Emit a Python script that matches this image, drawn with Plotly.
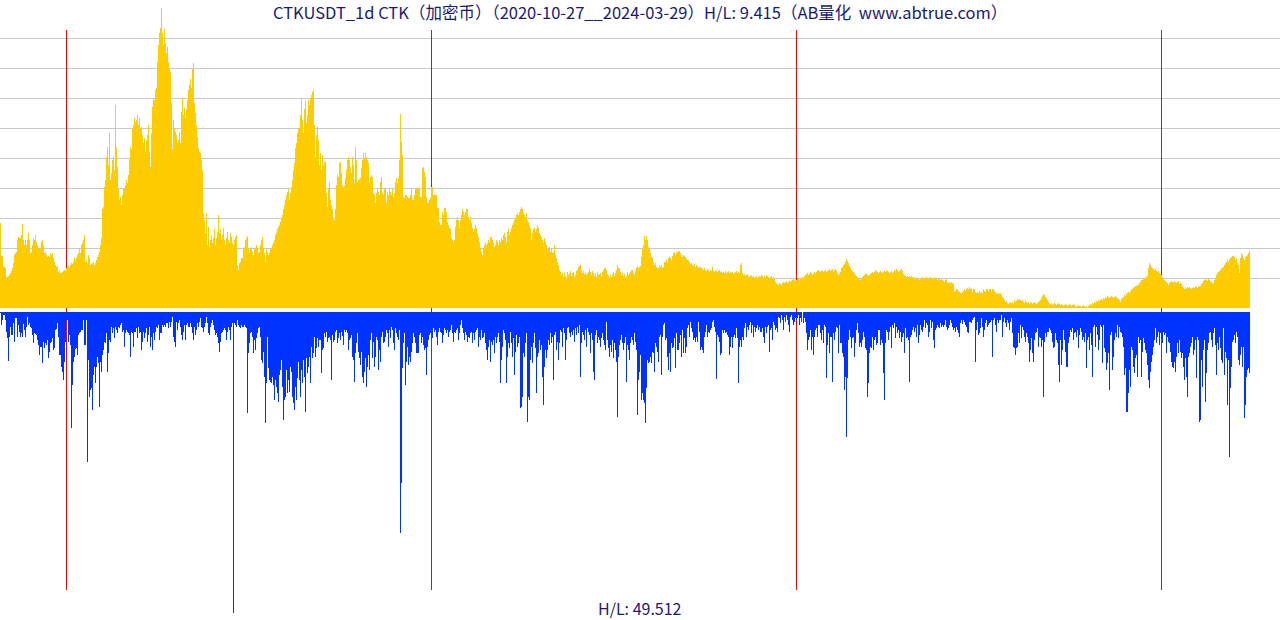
import pandas as pd
import plotly.graph_objects as go

start_date = "2020-10-27"
year_marks = ["2021-01-01", "2022-01-01", "2023-01-01", "2024-01-01"]
title_text = "CTKUSDT_1d CTK（加密币）（2020-10-27__2024-03-29）H/L: 9.415（AB量化  www.abtrue.com）"
volume_text = "H/L: 49.512"

# daily price (US cents)
price_cents = [
    163,118,118,105,104,102,90,90,91,93, 95,98,102,109,120,122,124,140,144,143,
    143,147,162,140,133,140,133,140,149,140, 122,124,133,143,140,147,137,133,129,127,
    129,137,140,133,122,124,120,117,118,117, 122,120,122,116,110,106,104,105,97,99,
    95,95,97,98,99,98,102,104,105,102, 106,109,108,110,116,113,116,120,122,127,
    122,133,136,140,147,110,113,109,120,116, 106,108,109,110,106,109,113,117,120,124,
    133,143,181,185,212,221,252,266,241,284, 221,230,248,252,234,322,266,239,208,194,
    198,187,201,210,208,214,221,217,228,251, 266,262,289,295,305,299,302,309,295,305,
    291,293,282,271,278,259,275,282,295,259, 239,284,320,332,329,342,345,380,403,419,
    426,453,419,403,424,406,392,401,380,370, 367,325,262,302,291,286,282,271,275,286,
    271,313,332,309,318,305,316,329,342,349, 357,345,370,379,325,311,295,279,264,259,
    257,248,234,176,167,149,176,133,158,131, 140,147,136,143,154,133,143,151,174,149,
    154,140,147,156,140,133,143,151,140,136, 149,144,136,133,140,144,147,106,99,109,
    110,116,116,127,131,140,143,145,129,122, 127,131,124,120,127,129,133,127,122,124,
    133,140,144,129,122,110,127,124,120,122, 127,129,133,136,140,147,149,154,158,160,
    164,170,174,181,187,194,201,205,208,194, 203,212,221,234,244,264,271,284,289,291,
    309,332,302,284,316,329,298,309,329,322, 332,336,340,342,295,252,282,293,275,241,
    257,234,255,241,245,245,203,185,210,218, 194,187,181,170,167,181,214,228,225,244,
    245,230,214,212,213,224,234,248,252,248, 239,230,252,241,217,266,248,218,221,222,
    224,237,248,257,251,257,252,248,244,218, 225,228,225,203,201,190,203,210,205,201,
    218,225,203,201,208,210,190,205,201,208, 205,201,208,198,203,218,224,217,224,248,
    310,272,255,198,197,201,201,198,197,197, 201,210,194,194,201,210,210,208,208,208,
    198,198,237,239,232,225,198,190,190,194, 197,212,212,201,201,201,201,183,183,164,
    160,160,178,174,183,183,178,164,160,156, 154,143,140,137,140,158,167,171,167,156,
    167,174,181,178,174,178,182,181,171,167, 171,163,156,151,154,160,156,149,144,137,
    129,124,120,127,133,136,133,136,140,137, 144,144,140,136,131,133,140,137,133,140,
    137,143,140,147,149,144,137,151,154,147, 151,156,160,163,167,170,174,176,174,178,
    181,185,181,176,174,171,176,167,164,160, 156,140,149,154,156,151,154,160,156,149,
    147,144,140,136,143,137,133,129,127,131, 124,127,122,124,133,120,116,110,106,99,
    97,93,95,90,97,91,89,97,93,95, 98,91,95,97,90,93,98,99,104,105,
    106,99,95,98,94,97,93,95,97,101, 97,93,98,95,91,95,90,97,93,94,
    95,91,97,99,102,102,99,94,91,89, 93,90,94,97,91,95,99,106,102,102,
    97,93,95,91,94,89,91,97,93,95, 97,99,99,95,93,98,102,105,102,104,
    105,117,127,133,145,140,145,140,131,127, 122,117,116,110,106,109,104,102,102,106,
    104,106,102,104,110,110,113,109,116,117, 116,113,118,122,124,120,122,124,125,125,
    122,120,117,120,118,117,114,113,113,110, 108,109,106,105,108,104,106,105,102,104,
    104,102,101,99,102,99,98,101,99,97, 99,98,104,98,97,99,98,97,98,99,
    97,98,95,97,95,98,95,97,98,95, 97,95,97,94,95,97,98,95,97,95,
    106,109,95,93,94,91,93,94,91,90, 91,93,90,91,89,90,91,89,90,91,
    90,93,91,89,91,90,93,91,90,89, 90,91,89,90,87,83,82,81,79,82,
    81,79,82,83,82,83,85,82,83,85, 83,85,86,87,86,85,86,87,89,86,
    87,89,90,89,91,93,94,95,93,94, 97,95,93,94,97,95,97,98,99,98,
    97,99,98,97,98,99,97,98,99,101, 98,99,101,97,99,101,98,95,93,94,
    97,102,104,106,108,110,114,112,109,105, 102,99,98,97,95,93,91,90,89,87,
    86,89,90,91,93,95,94,93,91,93, 94,95,97,95,97,99,98,97,95,97,
    98,97,95,97,98,97,99,98,97,95, 97,98,95,97,99,98,101,99,97,98,
    99,101,98,94,93,91,90,91,90,91, 90,91,90,89,90,89,87,89,87,86,
    87,89,90,89,87,89,90,89,87,89, 90,89,87,89,90,89,87,86,87,89,
    86,87,86,85,83,86,87,83,82,83, 82,83,82,81,70,71,73,74,71,70,
    68,68,70,71,73,71,74,75,74,77, 73,75,70,74,73,70,68,70,68,71,
    68,70,68,73,71,70,73,74,71,74, 73,70,74,73,71,68,68,67,68,67,
    68,66,63,62,59,56,58,55,54,56, 55,55,56,54,59,56,58,60,59,60,
    59,58,59,56,55,58,56,55,56,54, 55,56,54,55,56,55,54,55,56,58,
    59,62,64,67,66,63,62,59,56,55, 54,55,52,54,55,54,52,54,55,54,
    52,54,52,51,52,54,52,51,52,54, 52,51,52,54,52,51,50,51,52,51,
    51,50,51,52,51,50,51,48,51,52, 54,52,55,54,56,55,58,56,59,58,
    59,60,59,62,60,63,62,64,63,62, 63,64,63,62,63,64,63,62,60,59,
    56,60,62,63,66,64,67,68,70,68, 71,73,74,75,77,78,78,79,79,82,
    83,86,86,87,89,89,90,91,102,109, 106,104,102,101,99,101,98,97,98,95,
    94,93,90,87,86,85,83,82,79,82, 83,85,83,82,85,83,82,83,85,81,
    82,81,78,75,74,73,75,77,75,77, 75,74,75,77,75,78,77,75,77,78,
    78,81,82,85,86,87,86,85,87,86, 85,83,82,81,86,89,93,95,97,98,
    99,102,102,104,106,109,110,113,110,114, 116,117,118,118,117,113,116,109,106,95,
    116,122,120,116,113,117,118,120,122,125,
]

# daily volume (arbitrary units)
volume = [
    7,19,14,9,9,14,26,32,55,31, 21,29,29,17,36,12,12,31,19,26,
    31,27,31,18,24,31,21,11,19,17, 21,22,29,37,27,28,29,34,39,49,
    41,41,57,36,42,37,39,34,52,46, 37,36,32,44,42,24,23,17,31,49,
    49,61,66,74,56,36,14,14,36,29, 39,122,79,56,51,43,42,49,29,27,
    26,24,24,14,39,39,14,156,54,91, 84,82,104,69,61,77,61,51,57,101,
    56,66,49,44,36,37,27,66,47,34, 36,21,27,22,32,21,24,27,21,22,
    19,17,26,24,41,27,24,26,27,29, 51,26,27,41,26,26,22,32,21,27,
    26,44,36,26,32,27,22,36,29,21, 41,31,44,27,34,26,21,22,19,34,
    27,27,19,21,19,21,17,17,22,16, 21,16,11,31,36,41,16,24,17,14,
    21,29,34,26,19,34,19,17,21,21, 17,21,27,34,21,29,24,17,21,16,
    12,21,22,26,21,17,11,17,27,29, 21,17,14,19,24,29,27,31,37,46,
    36,27,26,24,22,24,34,26,21,24, 34,21,17,307,17,19,21,14,19,21,
    22,19,21,21,19,21,22,107,47,37, 27,26,31,47,34,44,32,27,22,21,
    31,54,57,46,71,117,77,31,62,74, 76,77,71,79,94,74,81,87,96,69,
    64,54,81,114,94,91,64,87,74,86, 61,66,91,97,104,81,94,72,56,74,
    91,64,77,54,71,106,52,67,61,51, 77,41,52,47,31,51,42,32,41,34,
    34,67,44,42,27,31,26,36,32,31, 34,74,29,36,34,26,24,37,32,27,
    34,26,30,39,24,26,24,27,44,34, 32,29,51,54,76,47,37,27,46,52,
    59,46,71,77,66,52,81,61,49,64, 34,27,52,36,61,51,31,34,64,44,
    56,31,26,37,36,31,24,27,41,24, 32,21,24,37,44,22,27,31,34,24,
    227,177,62,37,27,79,56,41,59,51, 56,46,37,27,31,37,47,47,47,29,
    27,37,31,39,44,42,69,41,34,29, 27,24,32,22,26,24,31,39,26,22,
    26,27,37,29,22,24,27,24,31,26, 24,19,27,36,26,27,24,22,34,27,
    19,14,22,27,34,26,29,36,31,32, 27,26,37,27,34,26,24,22,41,31,
    34,24,32,31,27,37,44,54,41,34, 56,36,39,34,47,31,37,31,27,36,
    77,54,41,24,27,34,77,51,37,42, 26,37,51,32,69,46,29,41,37,31,
    102,101,91,47,51,37,27,116,91,94, 54,41,57,37,27,42,87,51,47,34,
    44,39,71,99,61,44,52,44,34,39, 27,37,31,74,29,26,44,36,54,37,
    24,26,41,22,27,54,34,22,21,27, 31,26,29,24,36,22,29,21,27,19,
    71,37,26,29,34,24,41,22,26,29, 47,27,34,66,74,29,24,37,31,34,
    41,32,27,34,39,44,16,34,42,51, 39,46,34,52,37,44,56,111,51,39,
    34,29,37,44,37,31,76,39,44,54, 37,31,34,39,27,36,44,109,74,66,
    49,94,87,94,97,117,82,54,57,56, 51,57,46,47,66,37,41,46,56,31,
    29,69,31,19,17,34,32,51,64,47, 66,37,42,41,32,62,27,44,44,37,
    29,51,24,47,32,47,41,22,19,31, 16,22,26,34,32,36,31,36,16,26,
    44,41,44,47,31,26,19,31,26,27, 24,22,16,14,21,26,73,29,31,36,
    49,47,24,27,24,27,26,29,31,49, 41,31,42,31,29,32,22,32,77,41,
    34,41,31,34,22,17,31,21,24,19, 16,27,19,31,21,26,22,19,24,21,
    26,26,22,31,37,21,27,21,19,46, 24,22,34,16,19,24,22,26,11,12,
    17,9,14,24,11,16,9,14,19,26, 11,9,14,19,16,12,14,12,9,19,
    12,16,6,17,12,16,27,44,34,31, 24,44,31,49,31,24,22,31,19,19,
    27,34,24,37,19,21,72,39,27,47, 31,31,76,27,34,26,21,22,47,19,
    37,37,47,51,84,71,131,72,34,24, 31,42,32,31,51,37,24,17,27,41,
    37,41,34,26,31,42,44,91,77,47, 41,42,31,44,34,31,39,37,24,24,
    39,34,37,67,94,37,24,26,34,26, 21,42,19,22,17,32,21,27,24,32,
    26,36,31,27,47,22,32,31,34,76, 31,29,24,21,26,22,31,19,37,29,
    19,24,26,21,14,22,17,19,31,26, 14,22,16,34,42,24,22,19,21,22,
    17,21,19,21,19,14,21,24,22,19, 14,17,21,24,22,26,21,24,27,31,
    17,14,18,14,16,19,21,26,27,16, 16,17,14,12,11,56,24,16,29,27,
    22,12,21,31,24,17,14,21,19,17, 16,14,51,14,12,19,26,14,17,14,
    14,9,31,16,12,17,21,14,17,24, 16,12,27,41,42,49,42,41,27,37,
    19,32,21,24,31,36,27,31,37,56, 44,32,47,56,34,27,26,22,41,31,
    32,41,34,91,36,27,31,26,26,22, 24,27,36,42,41,27,34,37,59,76,
    34,59,44,24,34,46,61,61,37,31, 24,26,22,34,27,26,31,24,42,29,
    22,26,34,31,36,27,62,34,31,44, 27,39,71,21,19,41,21,29,44,34,
    19,21,57,19,42,46,64,57,47,84, 29,26,64,51,34,27,31,19,32,21,
    26,27,31,41,69,62,106,106,87,64, 81,41,44,61,67,52,49,71,31,37,
    34,71,46,32,37,44,47,59,74,82, 66,56,49,41,34,22,37,31,26,39,
    27,32,37,26,29,27,47,31,36,37, 46,56,61,62,56,66,51,37,47,34,
    46,52,47,61,74,52,71,91,51,47, 41,37,31,49,44,34,72,31,34,116,
    114,54,81,44,34,96,67,44,37,27, 26,34,41,27,22,39,69,37,44,31,
    42,54,57,22,69,46,52,99,54,151, 82,61,36,34,29,37,26,31,54,59,
    49,41,61,41,112,99,71,64,62,67,
]

W, H = 1280, 620
DAY_MS = 86400000


def paper_y(px):
    return (H - px) / H


dates = pd.date_range(start_date, periods=len(price_cents), freq="D")
x_start = pd.Timestamp(start_date) - pd.Timedelta(hours=12)
x_end = x_start + pd.Timedelta(days=W)

fig = go.Figure()
fig.add_trace(go.Bar(
    x=dates, y=price_cents, width=DAY_MS, xaxis="x", yaxis="y",
    marker=dict(color="#ffcc00", line=dict(width=0)), hoverinfo="skip",
))
fig.add_trace(go.Bar(
    x=dates, y=volume, width=DAY_MS, xaxis="x", yaxis="y2",
    marker=dict(color="#0033ff", line=dict(width=0)), hoverinfo="skip",
))

shapes = []
for k in range(1, 10):
    row = 308 - 30 * k + 0.5
    shapes.append(dict(type="line", xref="paper", yref="paper", x0=0, x1=1,
                       y0=paper_y(row), y1=paper_y(row),
                       line=dict(color="#c8c8c8", width=1), layer="below"))
for d in year_marks:
    shapes.append(dict(type="line", xref="x", yref="paper", x0=d, x1=d,
                       y0=paper_y(590), y1=paper_y(30),
                       line=dict(color="#ff0000", width=1), layer="below"))

font_family = "Noto Sans CJK SC, Noto Sans, DejaVu Sans, sans-serif"
fig.update_layout(
    width=W, height=H,
    margin=dict(l=0, r=0, t=0, b=0, pad=0),
    paper_bgcolor="white", plot_bgcolor="white",
    showlegend=False, barmode="overlay", bargap=0,
    xaxis=dict(range=[x_start, x_end], visible=False, domain=[0, 1]),
    yaxis=dict(domain=[paper_y(308), paper_y(8)],
               range=[min(price_cents), max(price_cents)], visible=False),
    yaxis2=dict(domain=[paper_y(613), paper_y(312)],
                range=[max(volume), min(volume)], visible=False, anchor="x"),
    shapes=shapes,
    annotations=[
        dict(text=title_text, xref="paper", yref="paper", x=0.5, y=paper_y(11.5),
             xanchor="center", yanchor="middle", showarrow=False,
             font=dict(family=font_family, size=16.5, color="#1a1a72")),
        dict(text=volume_text, xref="paper", yref="paper", x=0.5, y=paper_y(607.5),
             xanchor="center", yanchor="middle", showarrow=False, borderpad=0,
             font=dict(family=font_family, size=16, color="#1a1a72")),
    ],
)

fig.write_html("out.html", config={"displayModeBar": False})
